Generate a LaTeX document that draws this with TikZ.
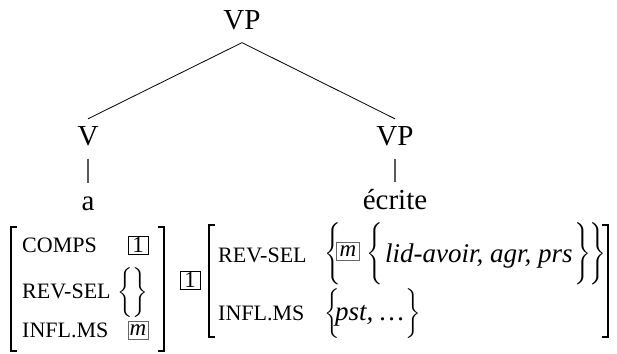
\documentclass[tikz,border=0pt]{standalone}
\usepackage{exscale}
\usepackage{fontspec}
\setmainfont{Liberation Serif}
\newcommand{\LBr}[1]{$\delimiterfactor=1000\delimitershortfall=0pt\left\{\vcenter{\hbox{\rule{0pt}{#1}}}\right.\kern-\nulldelimiterspace$}
\newcommand{\RBr}[1]{$\delimiterfactor=1000\delimitershortfall=0pt\kern-\nulldelimiterspace\left.\vcenter{\hbox{\rule{0pt}{#1}}}\right\}$}
\newcommand{\EBr}[1]{$\delimiterfactor=1000\delimitershortfall=0pt\kern-\nulldelimiterspace\left\{\vcenter{\hbox{\rule{0pt}{#1}}}\kern-1pt\right\}\kern-\nulldelimiterspace$}
\tikzset{
 treelab/.style={font=\fontsize{29}{34}\selectfont, inner sep=0pt, anchor=base},
 feat/.style={font=\fontsize{22}{25}\selectfont, inner sep=0pt, anchor=base west},
 val/.style={font=\fontsize{27}{32}\selectfont\itshape, inner sep=0pt, anchor=base west},
 tagbox/.style={draw, line width=0.8pt, minimum width=20pt, minimum height=18pt, inner sep=0pt, font=\fontsize{23}{26}\selectfont},
 mbox/.style={tagbox, draw=black!60, font=\fontsize{23}{26}\selectfont\itshape},
 branch/.style={line width=0.8pt},
 stem/.style={line width=1.1pt, draw=black!65},
 brk/.style={line width=1.6pt},
 delim/.style={inner sep=0pt, font=\fontsize{22}{26}\selectfont},
}
\begin{document}
\begin{tikzpicture}[x=1pt,y=-1pt]
\useasboundingbox (0,0) rectangle (617,353);
% tree
\node[treelab] (top) at (242,30) {VP};
\node[treelab] (v) at (88,145) {V};
\node[treelab] (vp) at (395,145) {VP};
\node[treelab] (a) at (88,210) {a};
\node[treelab] (ecrite) at (395,209) {écrite};
\draw[branch] ([yshift=-12pt]top.south) -- ([yshift=7pt]v.north);
\draw[branch] ([yshift=-12pt]top.south) -- ([yshift=7pt]vp.north);
\draw[stem] ([yshift=-13pt]v.south) -- ([yshift=-37pt]v.south);
\draw[stem] ([yshift=-13pt]vp.south) -- ([yshift=-36pt]vp.south);
% left AVM
\coordinate (l1) at (11,227); \coordinate (l2) at (11,351);
\coordinate (l3) at (164,227); \coordinate (l4) at (164,351);
\draw[brk] ([xshift=6pt]l1) -- (l1) -- (l2) -- ([xshift=6pt]l2);
\draw[brk] ([xshift=-6pt]l3) -- (l3) -- (l4) -- ([xshift=-6pt]l4);
\node[feat] (comps) at (22,252) {COMPS};
\node[feat] (revsel1) at (22,298) {REV-SEL};
\node[feat] (infl1) at (22,337) {INFL.MS};
\node[tagbox] (tag1a) at (138,245) {1};
\node[delim] (empty) at (133,293) {\EBr{40pt}};
\node[mbox] (m1) at (138,330) {m};
% middle tag
\node[tagbox] (tag1b) at (190,280) {1};
% right AVM
\coordinate (r1) at (209,225); \coordinate (r2) at (209,337);
\coordinate (r3) at (608,225); \coordinate (r4) at (608,337);
\draw[brk] ([xshift=6pt]r1) -- (r1) -- (r2) -- ([xshift=6pt]r2);
\draw[brk] ([xshift=-6pt]r3) -- (r3) -- (r4) -- ([xshift=-6pt]r4);
\node[feat] (revsel2) at (218,262) {REV-SEL};
\node[feat] (infl2) at (218,320) {INFL.MS};
\node[delim, anchor=west] (ob1) at (324,253.5) {\LBr{55pt}};
\node[mbox, minimum width=23pt] (m2) at (348,251.5) {m};
\node[delim, anchor=west] (ib1) at (366,253.5) {\LBr{55pt}};
\node[val] (vals1) at (385,262) {lid-avoir, agr, prs};
\node[delim, anchor=west] (ib2) at ([xshift=1pt]vals1.east |- ib1.west) {\RBr{55pt}};
\node[delim, anchor=west] (ob2) at ([xshift=-2pt]ib2.east) {\RBr{55pt}};
\node[delim, anchor=west] (b3) at (324,313.5) {\LBr{47pt}};
\node[val] (vals2) at (335,320) {pst, \ldots};
\node[delim, anchor=west] (b4) at ([xshift=1pt]vals2.east |- b3.west) {\RBr{47pt}};
\end{tikzpicture}
\end{document}
